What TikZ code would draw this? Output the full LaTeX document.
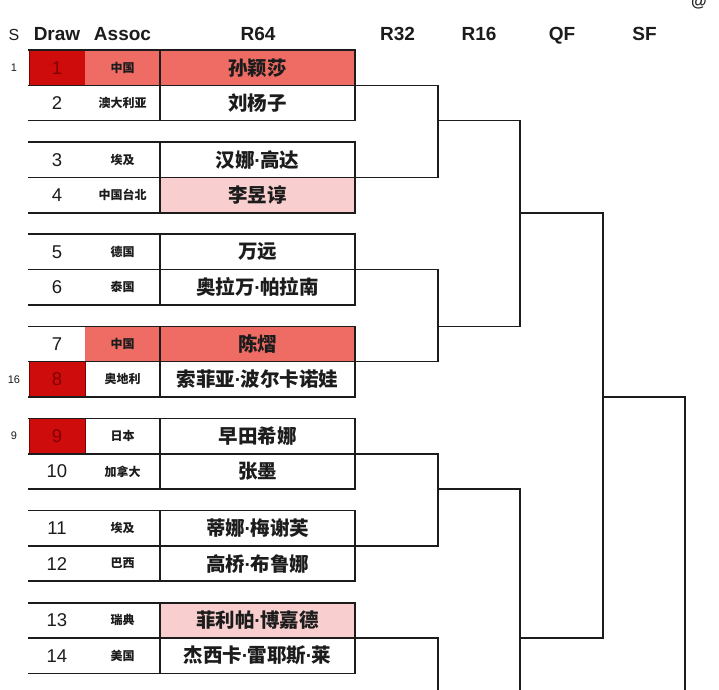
\documentclass[tikz,border=0pt]{standalone}
\usepackage{fontspec}
\setmainfont{Liberation Sans}
\newfontfamily\cjk{Noto Sans CJK SC}
\newcommand\mdot{{\normalfont\bfseries\kern-0.5pt·\kern-0.5pt}}
\definecolor{seedred}{RGB}{206,12,12}
\definecolor{seeddark}{RGB}{130,0,0}
\definecolor{salmon}{RGB}{238,108,100}
\definecolor{pinklt}{RGB}{249,206,206}
\definecolor{ink}{RGB}{28,28,28}
\begin{document}
\begin{tikzpicture}[x=1pt,y=-1pt,
  cell/.style={rectangle, inner sep=0pt, outer sep=0pt, minimum height=35.3pt, text=ink},
  dcell/.style={cell, minimum width=56pt, font=\fontsize{18.5}{18.5}\selectfont},
  dplain/.style={dcell},
  dseed/.style={dcell, fill=seedred, draw=seeddark, line width=1pt, text=seeddark},
  acell/.style={cell, minimum width=75pt, font=\cjk\bfseries\fontsize{12}{12}\selectfont},
  aplain/.style={acell},
  asal/.style={acell, fill=salmon},
  ncell/.style={cell, minimum width=195pt, font=\cjk\bfseries\fontsize{19.5}{20}\selectfont},
  nplain/.style={ncell},
  nsal/.style={ncell, fill=salmon},
  npink/.style={ncell, fill=pinklt},
  tline/.style={draw=ink, line width=1.6pt, line cap=rect},
  bline/.style={draw=ink, line width=1.6pt},
  head/.style={font=\bfseries\fontsize{19}{19}\selectfont, text=ink, anchor=base, inner sep=0pt},
  seednum/.style={font=\fontsize{11}{11}\selectfont, text=ink}
]
\fill[white] (0,0) rectangle (719,689);
\useasboundingbox (0,0) rectangle (719,689);

% header
\node[font=\fontsize{16}{16}\selectfont, text=ink, anchor=base, inner sep=0pt] (hS) at (14,40) {S};
\node[head] (hD) at (57,40) {Draw};
\node[head] (hA) at (122.5,40) {Assoc};
\node[head] (h64) at (258,40) {R64};
\node[head] (h32) at (397.5,40) {R32};
\node[head] (h16) at (479,40) {R16};
\node[head] (hQ) at (562,40) {QF};
\node[head] (hSF) at (644.5,40) {SF};
\node[font=\bfseries\fontsize{16}{16}\selectfont, text=ink, anchor=base, inner sep=0pt] (wm) at (699,6) {@};

% rows
\foreach \i/\num/\ds/\as/\ass/\ns/\nm in {
 1/1/dseed/asal/中国/nsal/孙颖莎,
 2/2/dplain/aplain/澳大利亚/nplain/刘杨子,
 3/3/dplain/aplain/埃及/nplain/汉娜\mdot 高达,
 4/4/dplain/aplain/中国台北/npink/李昱谆,
 5/5/dplain/aplain/德国/nplain/万远,
 6/6/dplain/aplain/泰国/nplain/奥拉万\mdot 帕拉南,
 7/7/dplain/asal/中国/nsal/陈熠,
 8/8/dseed/aplain/奥地利/nplain/索菲亚\mdot 波尔卡诺娃,
 9/9/dseed/aplain/日本/nplain/早田希娜,
 10/10/dplain/aplain/加拿大/nplain/张墨,
 11/11/dplain/aplain/埃及/nplain/蒂娜\mdot 梅谢芙,
 12/12/dplain/aplain/巴西/nplain/高桥\mdot 布鲁娜,
 13/13/dplain/aplain/瑞典/npink/菲利帕\mdot 博嘉德,
 14/14/dplain/aplain/美国/nplain/杰西卡\mdot 雷耶斯\mdot 莱}
{
 \pgfmathtruncatemacro\k{(\i-1)/2}
 \pgfmathsetmacro\yc{50+92.12*\k+35.3*(\i-1-2*\k)+17.65}
 \node[\ds] (d\i) at (57,\yc) {\num};
 \node[\as] (a\i) at (122.5,\yc) {\ass};
 \node[\ns] (n\i) at (257.5,\yc) {\nm};
}

% seed numbers
\node[seednum] (s1) at ([xshift=-43pt]d1.center) {1};
\node[seednum] (s8) at ([xshift=-43pt]d8.center) {16};
\node[seednum] (s9) at ([xshift=-43pt]d9.center) {9};

% table lines
\foreach \p in {1,3,...,13} {
 \pgfmathtruncatemacro\q{\p+1}
 \draw[tline] (d\p.north west) -- (n\p.north east);
 \draw[tline] (d\p.south west) -- (n\p.south east);
 \draw[tline] (d\q.south west) -- (n\q.south east);
 \draw[tline] (n\p.north west) -- (n\q.south west);
 \draw[tline] (n\p.north east) -- (n\q.south east);
}

% bracket columns
\coordinate (c32) at (438,0);
\coordinate (c16) at (520,0);
\coordinate (cqf) at (603,0);
\coordinate (csf) at (685,0);
\coordinate (bot) at (0,692);

% R32
\draw[bline] (n1.south east) -- (n1.south east -| c32) -- (n3.south east -| c32) -- (n3.south east);
\draw[bline] (n5.south east) -- (n5.south east -| c32) -- (n7.south east -| c32) -- (n7.south east);
\draw[bline] (n9.south east) -- (n9.south east -| c32) -- (n11.south east -| c32) -- (n11.south east);
\draw[bline] (n13.south east) -- (n13.south east -| c32) -- (bot -| c32);
% R16
\draw[bline] (n2.south east -| c32) -- (n2.south east -| c16) -- (n7.north east -| c16) -- (n7.north east -| c32);
\draw[bline] (n10.south east -| c32) -- (n10.south east -| c16) -- (bot -| c16);
% QF
\draw[bline] (n4.south east -| c16) -- (n4.south east -| cqf) -- (n13.south east -| cqf) -- (n13.south east -| c16);
% SF
\draw[bline] (n8.south east -| cqf) -- (n8.south east -| csf) -- (bot -| csf);
\end{tikzpicture}
\end{document}
